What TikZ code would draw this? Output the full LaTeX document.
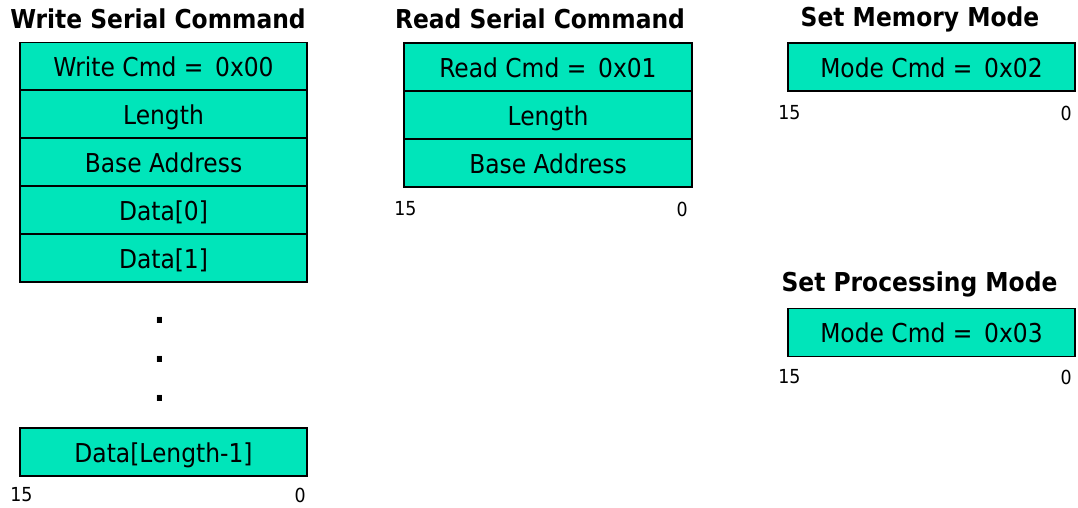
\documentclass[tikz,border=0pt]{standalone}
\usepackage{fontspec}
\setmainfont{DejaVu Sans Condensed}
\definecolor{fieldfill}{RGB}{0,229,186}
\tikzset{
  field/.style={draw=black, line width=1.3pt, fill=fieldfill, minimum height=36pt,
    inner sep=0pt, text height=19.5pt, text depth=3.8pt,
    font=\fontsize{19.5}{21}\selectfont},
  wfield/.style={field, minimum width=215.5pt},
  title/.style={font=\fontsize{19.5}{21}\selectfont\bfseries, inner sep=0pt},
  bitlabel/.style={font=\fontsize{14.5}{16}\selectfont, inner sep=0pt},
  dotmark/.style={font=\fontsize{24}{26}\selectfont\bfseries, inner sep=0pt},
}
\begin{document}
\begin{tikzpicture}[x=0.75pt, y=-0.75pt]
\useasboundingbox (0,0) rectangle (1078,507);

% Write Serial Command
\node[title] (wtitle) at (158,19) {Write Serial Command};
\node[wfield] (w0) at (163.5,66.5) {Write Cmd =\, 0x00};
\node[wfield] (w1) at (163.5,114) {Length};
\node[wfield] (w2) at (163.5,162) {Base Address};
\node[wfield] (w3) at (163.5,210) {Data[0]};
\node[wfield] (w4) at (163.5,258) {Data[1]};
\node[dotmark] (wd1) at (160,320) {.};
\node[dotmark] (wd2) at (160,359) {.};
\node[dotmark] (wd3) at (160,398) {.};
\node[wfield] (wn) at (163.5,452) {Data[Length-1]};
\node[bitlabel, anchor=west] (wmsb) at (10,495) {15};
\node[bitlabel, anchor=east] (wlsb) at (306,495) {0};

% Read Serial Command
\node[title] (rtitle) at (540,19) {Read Serial Command};
\node[wfield] (r0) at (548,67) {Read Cmd =\, 0x01};
\node[wfield] (r1) at (548,115) {Length};
\node[wfield] (r2) at (548,163) {Base Address};
\node[bitlabel, anchor=west] (rmsb) at (394,209) {15};
\node[bitlabel, anchor=east] (rlsb) at (688,209) {0};

% Set Memory Mode
\node[title] (mtitle) at (920,19) {Set Memory Mode};
\node[wfield] (m0) at (931.5,67) {Mode Cmd =\, 0x02};
\node[bitlabel, anchor=west] (mmsb) at (778,113) {15};
\node[bitlabel, anchor=east] (mlsb) at (1072,113) {0};

% Set Processing Mode
\node[title] (ptitle) at (919.5,284) {Set Processing Mode};
\node[wfield] (p0) at (931.5,332.5) {Mode Cmd =\, 0x03};
\node[bitlabel, anchor=west] (pmsb) at (778,377) {15};
\node[bitlabel, anchor=east] (plsb) at (1072,377) {0};
\end{tikzpicture}
\end{document}
